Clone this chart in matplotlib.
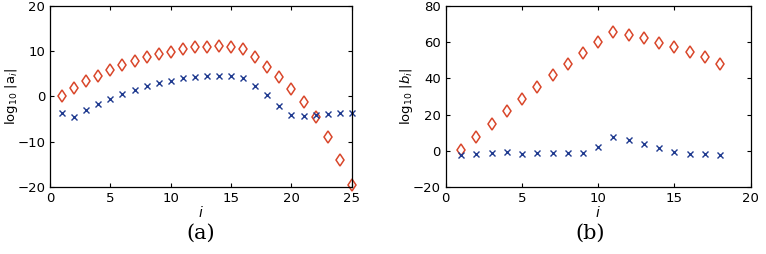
import numpy as np
import matplotlib.pyplot as plt

plt.rcParams['font.family'] = ['DejaVu Sans']
plt.rcParams['mathtext.fontset'] = 'dejavusans'

# panel (a)
ia = np.arange(1, 26)
a_red = [0.0, 1.8, 3.5, 4.6, 5.9, 6.9, 7.9, 8.6, 9.3, 9.9, 10.4, 10.8, 11.0, 11.1, 11.0,
         10.5, 8.7, 6.6, 4.3, 1.6, -1.3, -4.6, -9.0, -14.0, -19.6]
a_blue = [-3.7, -4.5, -3.0, -1.7, -0.5, 0.5, 1.5, 2.3, 2.9, 3.5, 4.0, 4.3, 4.6, 4.6, 4.5,
          4.0, 2.3, 0.2, -2.2, -4.0, -4.3, -4.1, -3.9, -3.75, -3.7]

# panel (b)
ib = np.arange(1, 19)
b_red = [0.2, 7.6, 14.8, 22.0, 28.7, 35.4, 41.7, 48.0, 54.0, 60.0, 65.5, 63.9, 62.0,
         59.6, 57.0, 54.4, 51.5, 48.0]
b_blue = [-2.4, -2.0, -1.5, -0.9, -1.7, -1.3, -1.1, -1.1, -1.5, 2.0, 7.6, 5.9, 3.9,
          1.5, -0.7, -1.7, -1.9, -2.6]

red = '#d9472b'
blue = '#1f3a8f'

fig = plt.figure(figsize=(7.66, 2.54), dpi=100)
ax1 = fig.add_axes([0.0653, 0.264, 0.394, 0.713])
ax2 = fig.add_axes([0.582, 0.264, 0.398, 0.713])

for ax, x, r, b in [(ax1, ia, a_red, a_blue), (ax2, ib, b_red, b_blue)]:
    ax.plot(x, r, ls='none', marker='d', ms=6.2, mfc='none', mec=red, mew=1.1, clip_on=False)
    ax.plot(x, b, ls='none', marker='x', ms=4.2, color=blue, mew=1.0, clip_on=False)
    ax.tick_params(direction='in', top=True, right=True, labelsize=9.5, length=3)
    for s in ax.spines.values():
        s.set_linewidth(0.9)

ax1.set_xlim(0, 25)
ax1.set_ylim(-20, 20)
ax1.set_xticks([0, 5, 10, 15, 20, 25])
ax1.set_yticks([-20, -10, 0, 10, 20])
ax1.set_xlabel('$i$', fontsize=10, labelpad=0)
ax1.set_ylabel(r'log$_{10}$ |a$_{i}$|', fontsize=9.5)
ax1.yaxis.set_label_coords(-0.098, 0.5)

ax2.set_xlim(0, 20)
ax2.set_ylim(-20, 80)
ax2.set_xticks([0, 5, 10, 15, 20])
ax2.set_yticks([-20, 0, 20, 40, 60, 80])
ax2.set_xlabel('$i$', fontsize=10, labelpad=0)
ax2.set_ylabel(r'log$_{10}$ |$b_{i}$|', fontsize=9.5)
ax2.yaxis.set_label_coords(-0.1, 0.5)

fig.text(0.262, 0.08, '(a)', family='DejaVu Serif', fontsize=15, ha='center', va='center')
fig.text(0.771, 0.08, '(b)', family='DejaVu Serif', fontsize=15, ha='center', va='center')

fig.savefig('out.png', dpi=100)
